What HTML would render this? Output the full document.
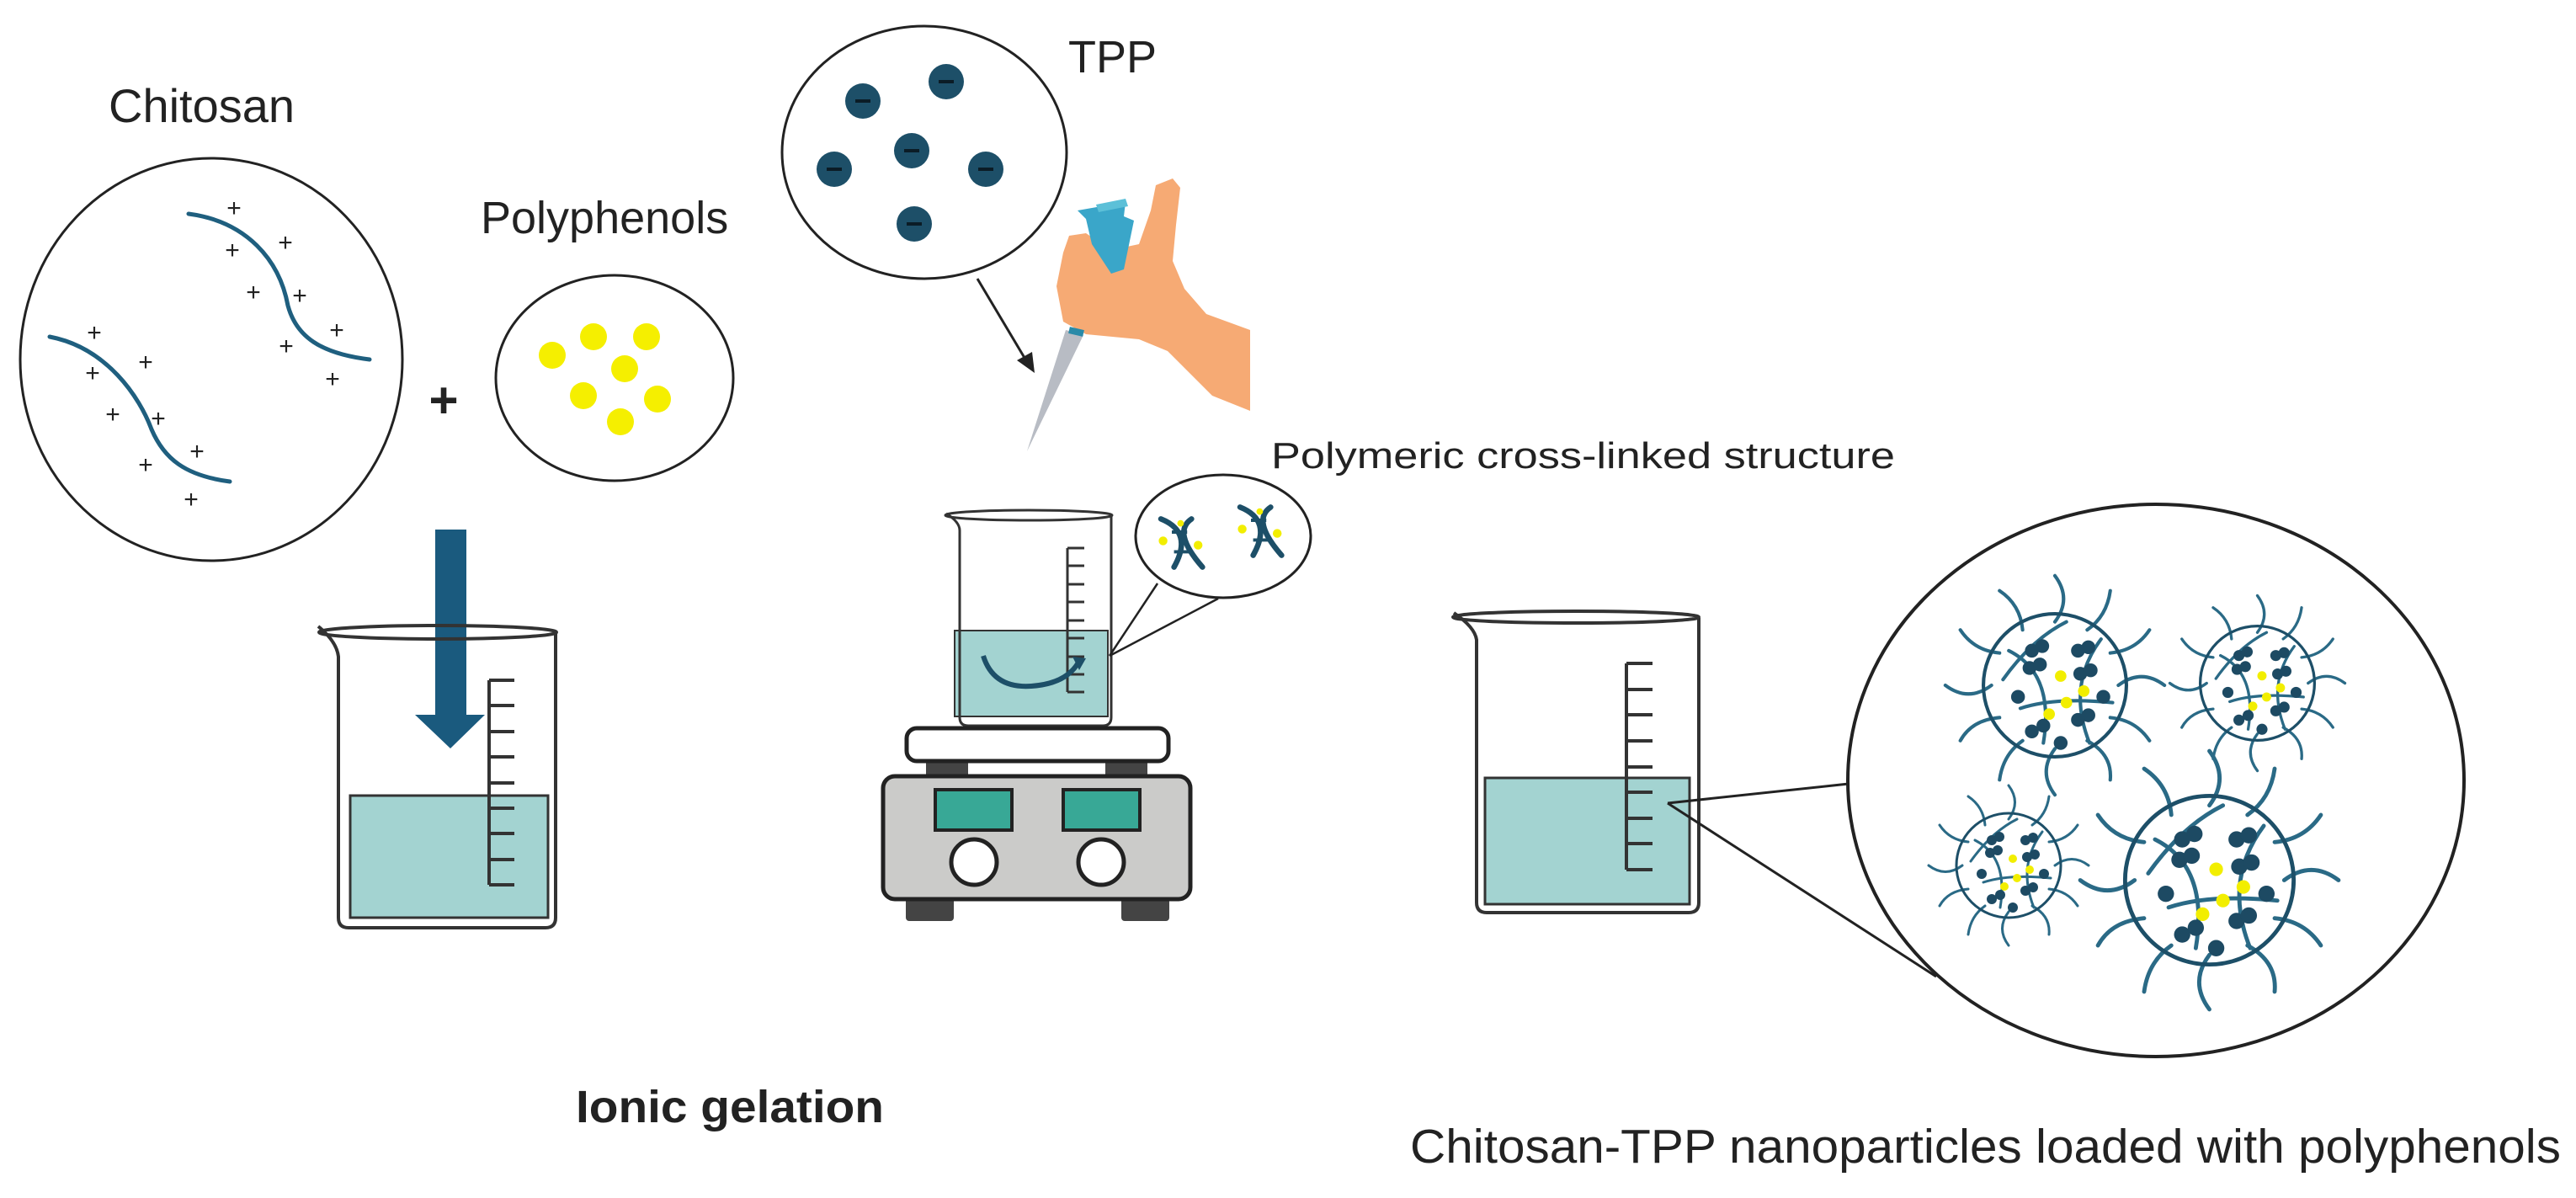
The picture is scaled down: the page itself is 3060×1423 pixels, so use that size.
<!DOCTYPE html>
<html><head><meta charset="utf-8"><style>
html,body{margin:0;padding:0;background:#fff}
svg{display:block}
text{font-family:"Liberation Sans",sans-serif;fill:#222}
</style></head><body>
<svg width="3060" height="1423" viewBox="0 0 3060 1423" xmlns="http://www.w3.org/2000/svg">
<defs>
<symbol id="np" viewBox="0 0 200 200">
<g fill="none" stroke="#2a6a86" stroke-width="3" stroke-linecap="round">
<path d="M155,100 Q175,85 195,100"/><path d="M148,72 Q170,70 182,52"/><path d="M128,52 Q145,40 148,18"/>
<path d="M100,45 Q115,25 100,5"/><path d="M72,52 Q70,30 52,18"/><path d="M52,72 Q30,70 18,52"/>
<path d="M45,100 Q25,115 5,100"/><path d="M52,128 Q28,130 18,148"/><path d="M72,148 Q55,160 52,182"/>
<path d="M100,155 Q85,175 100,195"/><path d="M128,148 Q150,160 148,182"/><path d="M148,128 Q170,130 182,148"/>
<path d="M60,70 Q100,90 90,150"/><path d="M140,60 Q110,100 130,150"/><path d="M70,120 Q100,110 150,115"/><path d="M55,95 Q80,60 110,45"/>
</g>
<circle cx="100" cy="100" r="62" fill="none" stroke="#1d4f68" stroke-width="3"/>
<g fill="#1d4a63">
<circle cx="80" cy="70" r="6"/><circle cx="89" cy="66" r="6"/><circle cx="78" cy="85" r="6"/><circle cx="87" cy="82" r="6"/>
<circle cx="120" cy="70" r="6"/><circle cx="129" cy="67" r="6"/><circle cx="122" cy="90" r="6"/><circle cx="131" cy="87" r="6"/>
<circle cx="120" cy="130" r="6"/><circle cx="129" cy="126" r="6"/><circle cx="80" cy="140" r="6"/><circle cx="90" cy="135" r="6"/>
<circle cx="142" cy="110" r="6"/><circle cx="68" cy="110" r="6"/><circle cx="105" cy="150" r="6"/>
</g>
<g fill="#f2ee00"><circle cx="105" cy="92" r="5"/><circle cx="110" cy="115" r="5"/><circle cx="95" cy="125" r="5"/><circle cx="125" cy="105" r="5"/></g>
</symbol>
<symbol id="helix" viewBox="0 0 60 60">
<g fill="none" stroke="#1d4f68" stroke-width="5" stroke-linecap="round">
<path d="M10,8 Q40,20 22,52"/><path d="M38,8 Q20,20 48,52"/>
</g>
<g stroke="#1d4f68" stroke-width="3"><line x1="20" y1="20" x2="34" y2="20"/><line x1="22" y1="38" x2="36" y2="38"/></g>
<g fill="#f2ee00"><circle cx="12" cy="28" r="4"/><circle cx="44" cy="32" r="4"/><circle cx="28" cy="12" r="3"/></g>
</symbol>
</defs>

<!-- Chitosan -->
<text x="129" y="145" font-size="56">Chitosan</text>
<ellipse cx="251" cy="427" rx="227" ry="239" fill="none" stroke="#222" stroke-width="3"/>
<g fill="none" stroke="#1f5f7f" stroke-width="5" stroke-linecap="round">
<path d="M224,254 C293,263 332,309 342,363 C352,400 381,420 439,427"/>
<path d="M59,400 C127,413 166,472 180,510 C195,545 220,565 273,572"/>
</g>
<g font-size="30" fill="#222" text-anchor="middle">
<text x="278" y="257">+</text><text x="276" y="307">+</text><text x="339" y="298">+</text><text x="301" y="357">+</text>
<text x="356" y="361">+</text><text x="400" y="402">+</text><text x="340" y="421">+</text><text x="395" y="460">+</text>
<text x="112" y="405">+</text><text x="110" y="453">+</text><text x="173" y="440">+</text><text x="134" y="502">+</text>
<text x="188" y="507">+</text><text x="234" y="546">+</text><text x="173" y="562">+</text><text x="227" y="603">+</text>
</g>
<text x="527" y="496" font-size="60" font-weight="bold" text-anchor="middle">+</text>

<!-- Polyphenols -->
<text x="571" y="277" font-size="54">Polyphenols</text>
<ellipse cx="730" cy="449" rx="141" ry="122" fill="none" stroke="#222" stroke-width="3"/>
<g fill="#f5ef00">
<circle cx="656" cy="422" r="16"/><circle cx="705" cy="400" r="16"/><circle cx="768" cy="400" r="16"/><circle cx="742" cy="438" r="16"/>
<circle cx="693" cy="470" r="16"/><circle cx="781" cy="474" r="16"/><circle cx="737" cy="501" r="16"/>
</g>

<!-- TPP -->
<ellipse cx="1098" cy="181" rx="169" ry="150" fill="none" stroke="#222" stroke-width="3"/>
<text x="1269" y="86" font-size="54">TPP</text>
<g fill="#1d4f68">
<circle cx="1025" cy="120" r="21"/><circle cx="1124" cy="97" r="21"/><circle cx="1083" cy="179" r="21"/>
<circle cx="991" cy="201" r="21"/><circle cx="1171" cy="201" r="21"/><circle cx="1086" cy="266" r="21"/>
</g>
<g stroke="#0b1c26" stroke-width="4">
<line x1="1016" y1="120" x2="1034" y2="120"/><line x1="1115" y1="97" x2="1133" y2="97"/><line x1="1074" y1="179" x2="1092" y2="179"/>
<line x1="982" y1="201" x2="1000" y2="201"/><line x1="1162" y1="201" x2="1180" y2="201"/><line x1="1077" y1="266" x2="1095" y2="266"/>
</g>
<line x1="1161" y1="331" x2="1220" y2="430" stroke="#222" stroke-width="3"/>
<polygon points="1229,443 1208,428 1226,418" fill="#222"/>

<!-- hand + pipette -->
<path d="M1270,280 L1290,277 L1320,297 L1353,290 L1367,250 L1373,220 L1393,212 L1402,223 L1397,267 L1393,310 L1407,343 L1433,373 L1485,392 L1485,488 L1440,470 L1387,417 L1353,403 L1290,397 L1263,382 L1255,340 L1263,300 Z" fill="#f6aa74"/>
<path d="M1280,250 L1337,240 L1335,257 L1347,262 L1335,320 L1320,325 L1297,290 L1290,260 Z" fill="#3aa6c9"/>
<path d="M1302,243 L1337,236 L1340,245 L1305,252 Z" fill="#5cc0d8"/>
<path d="M1266,392 L1287,398 L1220,536 Z" fill="#b8bcc4"/>
<line x1="1270" y1="392" x2="1287" y2="396" stroke="#2a8aa8" stroke-width="8"/>

<!-- big arrow -->
<rect x="517" y="629" width="37" height="225" fill="#1a5a7e"/>
<polygon points="493,849 576,849 535,889" fill="#1a5a7e"/>

<!-- beaker 1 -->
<rect x="416" y="945" width="235" height="145" fill="#a3d3d1" stroke="#333" stroke-width="3"/>
<path d="M378,744 Q400,762 402,780 L402,1090 Q402,1102 414,1102 L648,1102 Q660,1102 660,1090 L660,752" fill="none" stroke="#333" stroke-width="4"/>
<ellipse cx="520" cy="751" rx="141" ry="8" fill="none" stroke="#333" stroke-width="4"/>
<g stroke="#333" stroke-width="4">
<line x1="581" y1="808" x2="581" y2="1051"/>
<line x1="581" y1="808" x2="611" y2="808"/><line x1="581" y1="838" x2="611" y2="838"/><line x1="581" y1="869" x2="611" y2="869"/>
<line x1="581" y1="899" x2="611" y2="899"/><line x1="581" y1="930" x2="611" y2="930"/><line x1="581" y1="960" x2="611" y2="960"/>
<line x1="581" y1="990" x2="611" y2="990"/><line x1="581" y1="1021" x2="611" y2="1021"/><line x1="581" y1="1051" x2="611" y2="1051"/>
</g>

<!-- beaker 2 + stirrer -->
<rect x="1134" y="749" width="182" height="102" fill="#a3d3d1" stroke="#333" stroke-width="2"/>
<path d="M1124,610 Q1140,620 1140,630 L1140,852 Q1140,862 1150,862 L1310,862 Q1320,862 1320,852 L1320,612" fill="none" stroke="#333" stroke-width="3"/>
<ellipse cx="1222" cy="612" rx="99" ry="6" fill="none" stroke="#333" stroke-width="3"/>
<g stroke="#333" stroke-width="3">
<line x1="1268" y1="651" x2="1268" y2="822"/>
<line x1="1268" y1="651" x2="1288" y2="651"/><line x1="1268" y1="672" x2="1288" y2="672"/><line x1="1268" y1="694" x2="1288" y2="694"/>
<line x1="1268" y1="715" x2="1288" y2="715"/><line x1="1268" y1="737" x2="1288" y2="737"/><line x1="1268" y1="758" x2="1288" y2="758"/>
<line x1="1268" y1="780" x2="1288" y2="780"/><line x1="1268" y1="801" x2="1288" y2="801"/><line x1="1268" y1="822" x2="1288" y2="822"/>
</g>
<path d="M1168,779 Q1180,818 1225,815 Q1268,812 1282,785" fill="none" stroke="#1d4f68" stroke-width="6"/>
<polygon points="1274,780 1290,782 1282,796" fill="#1d4f68"/>
<rect x="1100" y="903" width="50" height="22" fill="#444"/><rect x="1313" y="903" width="50" height="22" fill="#444"/>
<rect x="1077" y="865" width="311" height="39" rx="12" fill="#fff" stroke="#222" stroke-width="5"/>
<rect x="1076" y="1066" width="57" height="28" rx="4" fill="#444"/><rect x="1332" y="1066" width="57" height="28" rx="4" fill="#444"/>
<rect x="1049" y="922" width="365" height="146" rx="14" fill="#cbcbc9" stroke="#222" stroke-width="5"/>
<rect x="1111" y="938" width="91" height="48" fill="#38a896" stroke="#222" stroke-width="4"/>
<rect x="1263" y="938" width="91" height="48" fill="#38a896" stroke="#222" stroke-width="4"/>
<circle cx="1157" cy="1024" r="27" fill="#fff" stroke="#222" stroke-width="5"/>
<circle cx="1308" cy="1024" r="27" fill="#fff" stroke="#222" stroke-width="5"/>

<!-- polymeric zoom -->
<line x1="1318" y1="779" x2="1375" y2="693" stroke="#222" stroke-width="2.5"/>
<line x1="1318" y1="779" x2="1447" y2="711" stroke="#222" stroke-width="2.5"/>
<ellipse cx="1453" cy="637" rx="104" ry="73" fill="#fff" stroke="#222" stroke-width="3"/>
<use href="#helix" x="1366" y="606" width="78" height="78"/>
<use href="#helix" x="1460" y="592" width="78" height="78"/>
<text x="1510" y="556" font-size="44" textLength="741" lengthAdjust="spacingAndGlyphs">Polymeric cross-linked structure</text>

<!-- beaker 3 -->
<rect x="1764" y="924" width="243" height="150" fill="#a3d3d1" stroke="#333" stroke-width="3"/>
<path d="M1727,728 Q1752,745 1754,760 L1754,1072 Q1754,1084 1766,1084 L2006,1084 Q2018,1084 2018,1072 L2018,734" fill="none" stroke="#333" stroke-width="4"/>
<ellipse cx="1872" cy="733" rx="146" ry="7" fill="none" stroke="#333" stroke-width="4"/>
<g stroke="#333" stroke-width="4">
<line x1="1932" y1="788" x2="1932" y2="1033"/>
<line x1="1932" y1="788" x2="1963" y2="788"/><line x1="1932" y1="819" x2="1963" y2="819"/><line x1="1932" y1="849" x2="1963" y2="849"/>
<line x1="1932" y1="880" x2="1963" y2="880"/><line x1="1932" y1="911" x2="1963" y2="911"/><line x1="1932" y1="941" x2="1963" y2="941"/>
<line x1="1932" y1="972" x2="1963" y2="972"/><line x1="1932" y1="1002" x2="1963" y2="1002"/><line x1="1932" y1="1033" x2="1963" y2="1033"/>
</g>
<line x1="1981" y1="954" x2="2196" y2="931" stroke="#222" stroke-width="3"/>
<line x1="1981" y1="954" x2="2300" y2="1160" stroke="#222" stroke-width="3"/>
<ellipse cx="2561" cy="927" rx="366" ry="328" fill="#fff" stroke="#222" stroke-width="4"/>
<use href="#np" x="2304" y="677" width="274" height="274"/>
<use href="#np" x="2572" y="702" width="219" height="219"/>
<use href="#np" x="2286" y="928" width="200" height="200"/>
<use href="#np" x="2463" y="884" width="323" height="323"/>

<text x="684" y="1333" font-size="54" font-weight="bold" textLength="366" lengthAdjust="spacingAndGlyphs">Ionic gelation</text>
<text x="1675" y="1381" font-size="57" textLength="1367" lengthAdjust="spacingAndGlyphs">Chitosan-TPP nanoparticles loaded with polyphenols</text>
</svg>
</body></html>
